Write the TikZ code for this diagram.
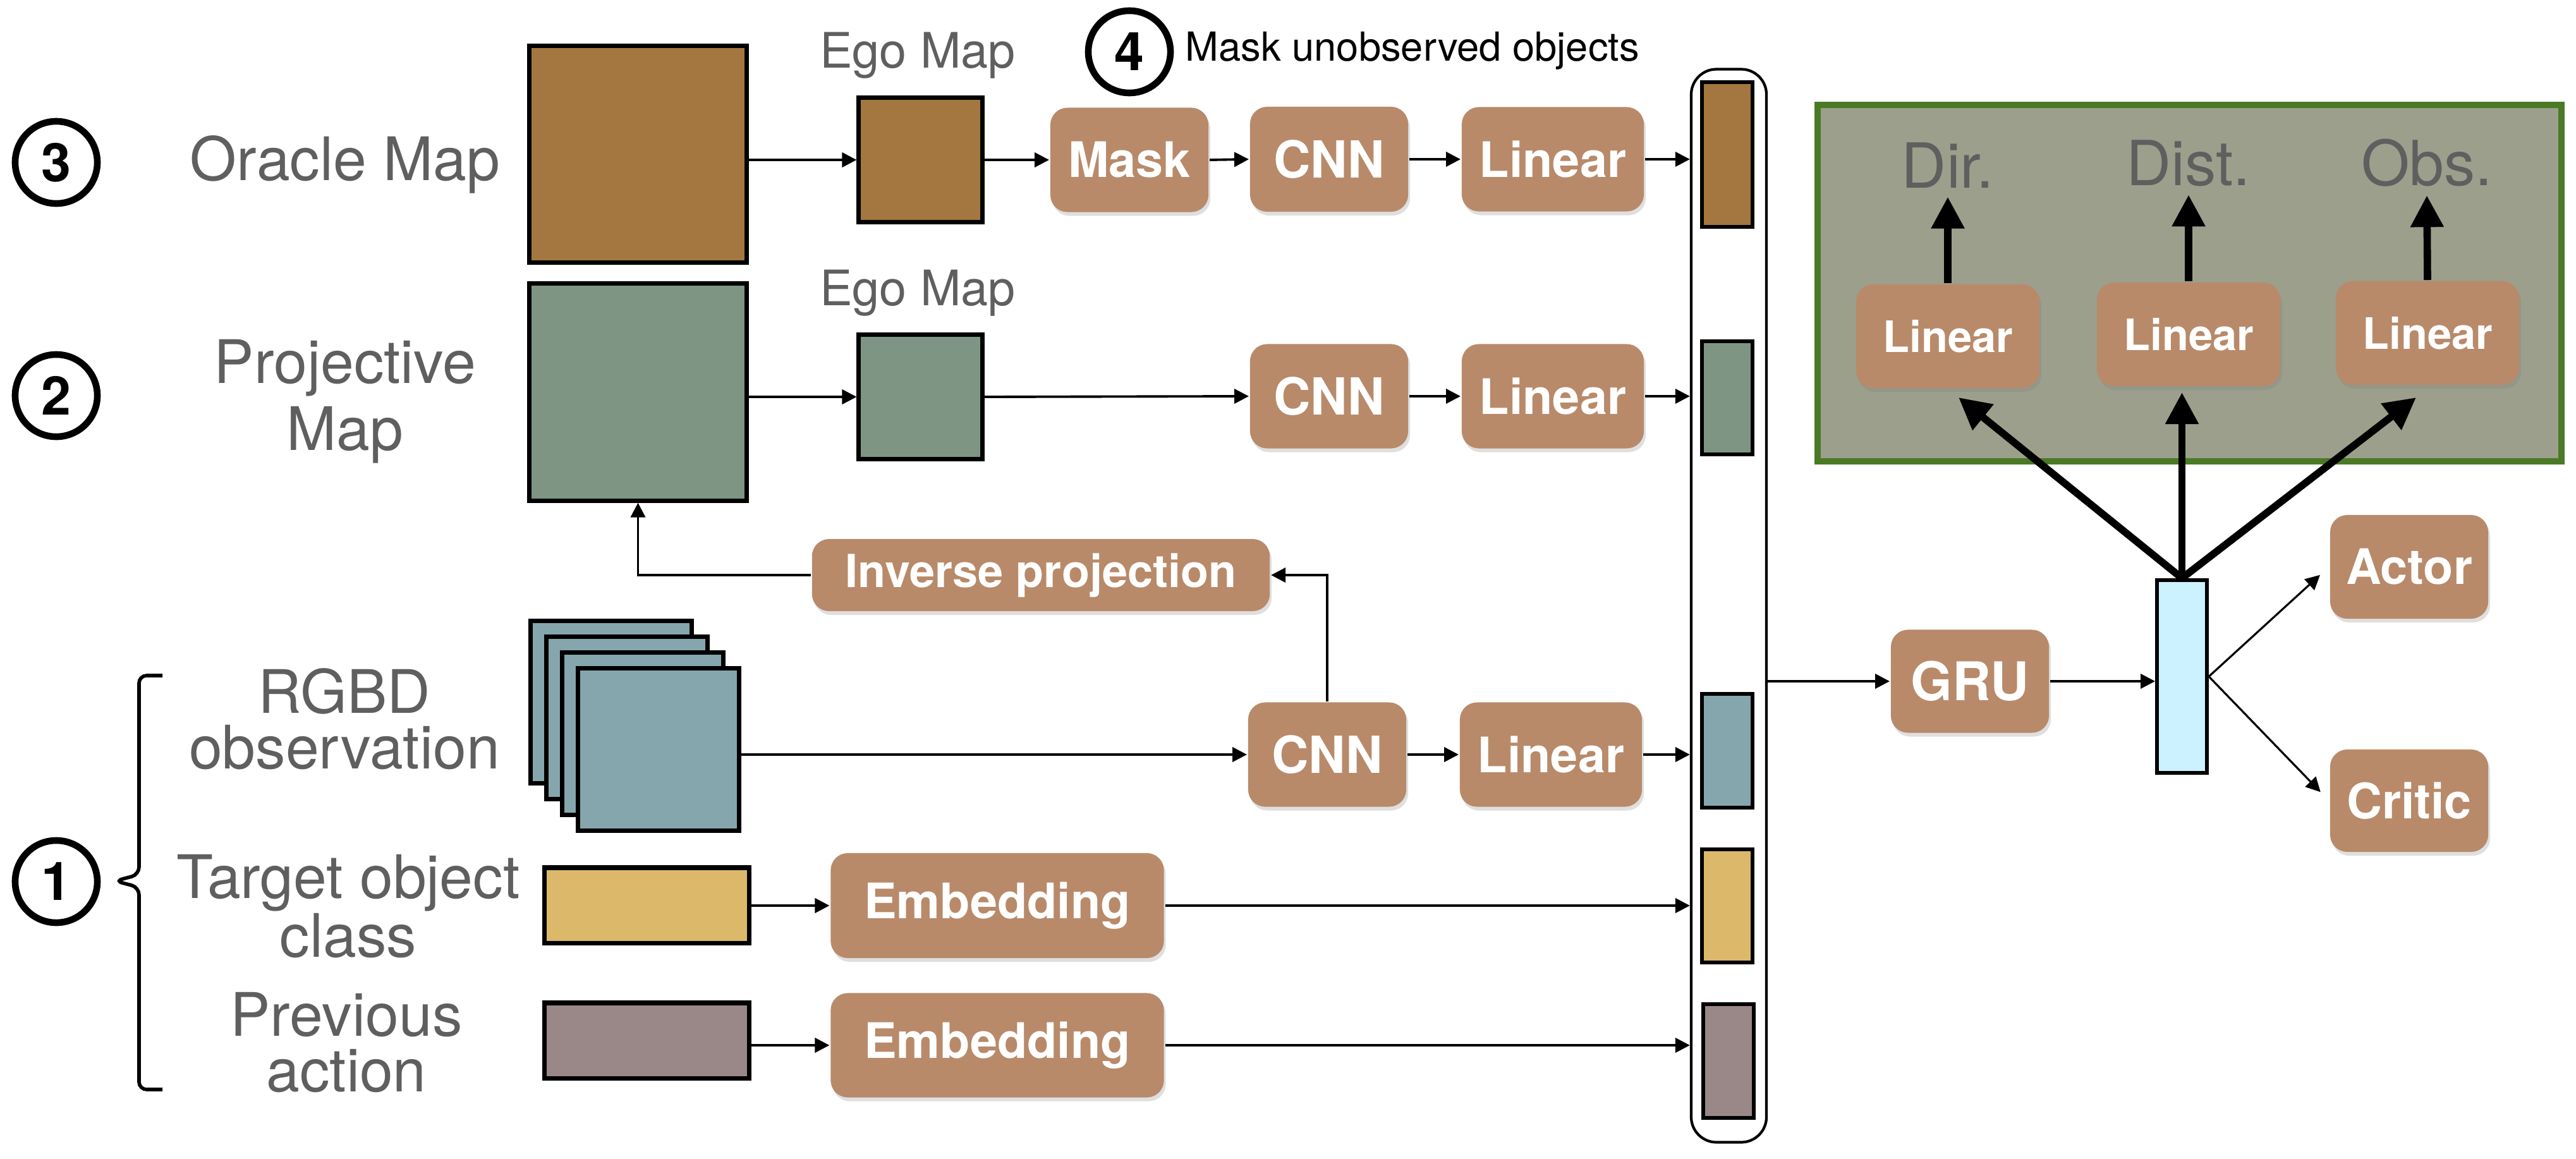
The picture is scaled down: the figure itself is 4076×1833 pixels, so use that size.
\documentclass[tikz,border=0pt]{standalone}
\usepackage{fontspec}
\setmainfont{TeX Gyre Heros}
\usepackage{tikz}
\usetikzlibrary{shadows,arrows.meta}

\definecolor{boxbrown}{HTML}{B88A6A}
\definecolor{oraclebrown}{HTML}{A3773F}
\definecolor{projgreen}{HTML}{7E9584}
\definecolor{rgbdblue}{HTML}{86A6AE}
\definecolor{targetyellow}{HTML}{DCB96A}
\definecolor{actiongray}{HTML}{9A8888}
\definecolor{auxfill}{HTML}{9C9F8C}
\definecolor{auxborder}{HTML}{4B7A26}
\definecolor{statecyan}{HTML}{CCF1FF}
\definecolor{labelgray}{HTML}{5F5F5F}

\tikzset{
  blk/.style={fill=boxbrown, rounded corners=0.27cm, text=white, inner sep=0pt,
    font=\fontsize{22}{24}\selectfont\bfseries,
    drop shadow={opacity=0.25, shadow xshift=0.03cm, shadow yshift=-0.06cm}},
  map/.style={draw, line width=2pt, inner sep=0pt,
    drop shadow={opacity=0.2, shadow xshift=0.03cm, shadow yshift=-0.04cm}},
  vec/.style={draw, line width=1.5pt, inner sep=0pt, minimum width=0.8cm},
  num/.style={circle, draw, fill=white, line width=3pt, minimum size=1.3cm, inner sep=0pt,
    font=\fontsize{24}{24}\selectfont\bfseries,
    drop shadow={opacity=0.3, shadow xshift=0.02cm, shadow yshift=-0.05cm}},
  lbl/.style={text=labelgray, align=center, font=\fontsize{27}{30}\selectfont},
  lbltight/.style={lbl, font=\fontsize{27}{25}\selectfont},
  ego/.style={text=labelgray, font=\fontsize{22}{24}\selectfont},
  thick arrow/.style={line width=3.3pt, -{Triangle[length=0.5cm, width=0.5cm]}},
}

\begin{document}
\begin{tikzpicture}[x=0.01cm, y=-0.01cm, >={Triangle[length=0.23cm, width=0.23cm]}, line width=1.1pt]
\useasboundingbox (0,0) rectangle (4076,1833);

% Nummern
\node[num] (n3) at (89,257) {3};
\node[num] (n2) at (89,626) {2};
\node[num] (n1) at (89,1395) {1};
\node[num] (n4) at (1787,82) {4};
\node[anchor=west, font=\fontsize{18}{20}\selectfont] (masktxt) at (1862,80) {Mask unobserved objects};

% Eingaben
\node[lbl] (oraclelbl) at (546,260) {Oracle Map};
\node[lbl] (projlbl) at (546,635) {Projective\\Map};
\node[lbltight] (rgbdlbl) at (545,1138) {RGBD\\observation};
\node[lbltight] (targetlbl) at (551,1434) {Target object\\class};
\node[lbltight] (prevlbl) at (548,1650) {Previous\\action};

% Klammer
\draw[line width=1.6pt, rounded corners=0.12cm] (257,1069) -- (220,1069) -- (220,1384) -- (182,1394) -- (220,1404) -- (220,1724) -- (257,1724);

% Karten
\node[map, fill=oraclebrown, minimum width=3.43cm, minimum height=3.42cm] (oracle) at (1009.5,244) {};
\node[map, fill=projgreen, minimum width=3.43cm, minimum height=3.43cm] (proj) at (1009.5,620.5) {};
\node[map, fill=oraclebrown, minimum width=1.95cm, minimum height=1.96cm] (ego1) at (1456.5,253) {};
\node[map, fill=projgreen, minimum width=1.95cm, minimum height=1.96cm] (ego2) at (1456.5,628) {};
\node[ego] (ego1lbl) at (1452,88) {Ego Map};
\node[ego] (ego2lbl) at (1452,464) {Ego Map};

% RGBD Stapel
\foreach \i in {1,...,4}
  \node[map, fill=rgbdblue, minimum width=2.55cm, minimum height=2.56cm] (rgbd\i) at ({967+25*(\i-1)},{1111+25*(\i-1)}) {};

\node[map, fill=targetyellow, minimum width=3.23cm, minimum height=1.19cm] (target) at (1023.5,1432.5) {};
\node[map, fill=actiongray, minimum width=3.23cm, minimum height=1.19cm] (prev) at (1023.5,1646.5) {};

% Bloecke
\node[blk, minimum width=2.5cm, minimum height=1.65cm] (mask) at (1787,253) {Mask};
\node[blk, minimum width=2.5cm, minimum height=1.66cm, font=\fontsize{23}{25}\selectfont\bfseries] (cnn1) at (2103,252) {CNN};
\node[blk, minimum width=2.88cm, minimum height=1.65cm] (lin1) at (2457,252) {Linear};
\node[blk, minimum width=2.5cm, minimum height=1.65cm, font=\fontsize{23}{25}\selectfont\bfseries] (cnn2) at (2103,627) {CNN};
\node[blk, minimum width=2.88cm, minimum height=1.65cm] (lin2) at (2457,627) {Linear};
\node[blk, minimum width=7.24cm, minimum height=1.14cm, font=\fontsize{20.5}{23}\selectfont\bfseries] (invproj) at (1647,910) {Inverse projection};
\node[blk, minimum width=2.5cm, minimum height=1.65cm, font=\fontsize{23}{25}\selectfont\bfseries] (cnn3) at (2100,1194) {CNN};
\node[blk, minimum width=2.88cm, minimum height=1.65cm] (lin3) at (2454,1194) {Linear};
\node[blk, minimum width=5.27cm, minimum height=1.66cm] (emb1) at (1578,1433) {Embedding};
\node[blk, minimum width=5.27cm, minimum height=1.65cm] (emb2) at (1578,1654) {Embedding};

% Merkmalsvektoren
\node[draw, rounded corners=0.4cm, line width=1.2pt, minimum width=1.19cm, minimum height=16.97cm] (col) at (2735.5,958.5) {};
\node[vec, fill=oraclebrown, minimum height=2.29cm] (f1) at (2733,244.5) {};
\node[vec, fill=projgreen, minimum height=1.79cm] (f2) at (2733,629.5) {};
\node[vec, fill=rgbdblue, minimum height=1.8cm] (f3) at (2733,1188) {};
\node[vec, fill=targetyellow, minimum height=1.79cm] (f4) at (2733,1433.5) {};
\node[vec, fill=actiongray, minimum height=1.8cm] (f5) at (2735,1679) {};

% Pfeile
\draw[->] (oracle.east |- ego1.west) -- (ego1.west);
\draw[->] (ego1.east) -- (mask.west);
\draw[->] (mask.east) -- (cnn1.west);
\draw[->] (cnn1.east) -- (lin1.west);
\draw[->] (lin1.east) -- (lin1.east -| col.west);
\draw[->] (proj.east |- ego2.west) -- (ego2.west);
\draw[->] (ego2.east) -- (cnn2.west);
\draw[->] (cnn2.east) -- (lin2.west);
\draw[->] (lin2.east) -- (lin2.east -| col.west);
\draw[->] (cnn3.west -| rgbd4.east) -- (cnn3.west);
\draw[->] (cnn3.east) -- (lin3.west);
\draw[->] (lin3.east) -- (lin3.east -| col.west);
\draw[->] (cnn3.north) |- (invproj.east);
\draw[->] (invproj.west) -| (proj.south);
\draw[->] (target.east |- emb1.west) -- (emb1.west);
\draw[->] (emb1.east) -- (emb1.east -| col.west);
\draw[->] (prev.east |- emb2.west) -- (emb2.west);
\draw[->] (emb2.east) -- (emb2.east -| col.west);

% Hilfsaufgaben
\node[draw=auxborder, fill=auxfill, line width=2.8pt, minimum width=11.77cm, minimum height=5.64cm] (aux) at (3464.5,448) {};
\node[blk, minimum width=2.9cm, minimum height=1.64cm, font=\fontsize{19.5}{22}\selectfont\bfseries] (glin1) at (3082,532) {Linear};
\node[blk, minimum width=2.9cm, minimum height=1.64cm, font=\fontsize{19.5}{22}\selectfont\bfseries] (glin2) at (3463,529) {Linear};
\node[blk, minimum width=2.9cm, minimum height=1.64cm, font=\fontsize{19.5}{22}\selectfont\bfseries] (glin3) at (3841,527) {Linear};
\node[lbl, font=\fontsize{28}{30}\selectfont] (dir) at (3082,262) {Dir.};
\node[lbl, font=\fontsize{28}{30}\selectfont] (dist) at (3463,258) {Dist.};
\node[lbl, font=\fontsize{28}{30}\selectfont] (obs) at (3840,258) {Obs.};
\draw[thick arrow] (glin1.north) -- (dir.south);
\draw[thick arrow] (glin2.north) -- (dist.south);
\draw[thick arrow] (glin3.north) -- (obs.south);

% Zustand
\node[blk, minimum width=2.5cm, minimum height=1.63cm, font=\fontsize{24}{26}\selectfont\bfseries] (gru) at (3117,1078) {GRU};
\node[vec, fill=statecyan, line width=1.7pt, minimum width=0.79cm, minimum height=3.05cm] (state) at (3452.5,1070.5) {};
\node[blk, minimum width=2.5cm, minimum height=1.64cm] (actor) at (3812,897) {Actor};
\node[blk, minimum width=2.5cm, minimum height=1.62cm] (critic) at (3812,1267) {Critic};

\draw[->] (col.east |- gru.west) -- (gru.west);
\draw[->] (gru.east) -- (gru.east -| state.west);
\draw[->, line width=0.9pt, shorten >=0.19cm] (state.east) -- (actor.west);
\draw[->, line width=0.9pt, shorten >=0.19cm] (state.east) -- (critic.west);

\coordinate (t1) at (3099,629);
\coordinate (t2) at (3452.5,621);
\coordinate (t3) at (3823,629);
\draw[thick arrow] (state.north) -- (t1);
\draw[thick arrow] (state.north) -- (t2);
\draw[thick arrow] (state.north) -- (t3);
\end{tikzpicture}
\end{document}
